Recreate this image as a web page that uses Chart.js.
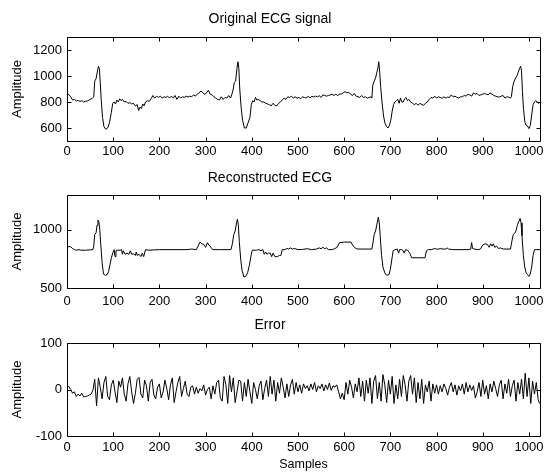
<!DOCTYPE html>
<html><head><meta charset="utf-8">
<script src="https://cdn.jsdelivr.net/npm/chart.js@4/dist/chart.umd.min.js"></script>
<style>
html,body{margin:0;padding:0;background:#fff;}
#wrap{position:relative;width:544px;height:473px;overflow:hidden;background:#fff;}
canvas{position:absolute;left:0;}
</style></head>
<body><div id="wrap">
<canvas id="c1" width="544" height="160" style="top:0px"></canvas>
<canvas id="c2" width="544" height="150" style="top:160px"></canvas>
<canvas id="c3" width="544" height="163" style="top:310px"></canvas>
</div>
<script>
const titles = ['Original ECG signal', 'Reconstructed ECG', 'Error'];
const yLabel = 'Amplitude';
const xLabel = 'Samples';
const xTicks = [0,100,200,300,400,500,600,700,800,900,1000];
const y1Ticks = [600,800,1000,1200];
const y2Ticks = [500,1000];
const y3Ticks = [-100,0,100];

const origX = [0,4,8,12,16,20,24,28,32,36,40,44,48,55,58,60,63,66,68,70,72,74,77,80,84,88,92,96,99,102,105,108,111,114,117,120,124,128,132,136,140,144,148,152,155,158,161,164,167,170,174,178,182,186,190,194,198,202,206,210,214,218,222,226,230,234,238,242,246,250,254,258,262,266,270,274,278,282,286,290,294,298,302,306,310,314,318,322,326,330,334,338,342,346,350,354,357,360,362,365,368,370,372,374,377,380,384,388,392,396,399,402,405,408,411,414,418,422,426,430,434,438,442,446,450,454,458,462,466,470,474,478,482,486,490,494,498,502,506,510,514,518,522,526,530,534,538,542,546,550,554,558,562,566,570,574,578,582,586,590,594,598,602,606,610,614,618,622,626,630,634,638,642,646,650,654,658,660,662,665,668,671,673,675,677,679,682,685,688,692,695,698,701,704,707,710,713,716,719,722,725,728,731,734,737,740,744,748,752,756,760,764,768,772,776,780,784,788,792,796,800,804,808,812,816,820,824,828,832,836,840,844,848,852,856,860,864,868,872,876,880,884,888,892,896,900,904,908,912,916,920,924,928,932,936,940,944,948,952,956,960,962,965,968,971,974,977,980,982,984,986,988,991,994,997,1000,1003,1006,1009,1012,1015,1018,1021,1024];
const origY = [860,858,840,815,820,808,812,805,810,800,805,808,815,830,840,960,980,1040,1075,1060,950,820,680,610,590,600,640,720,790,800,785,815,800,825,810,820,800,805,790,795,785,790,770,780,735,760,750,785,770,800,810,805,825,850,830,845,835,845,830,840,835,845,830,845,830,850,820,845,830,840,835,845,838,845,840,855,845,860,870,885,870,860,870,890,860,855,840,830,820,815,840,820,835,830,850,830,860,900,950,960,1060,1110,1060,900,760,660,600,600,640,680,780,810,800,835,815,820,810,800,800,790,785,780,770,790,775,770,790,800,815,830,820,840,835,845,830,840,830,835,825,840,835,830,845,830,845,838,845,840,848,835,855,850,845,850,855,860,850,860,850,860,862,870,880,870,875,860,850,865,845,840,835,850,835,840,830,835,840,830,930,960,985,1030,1060,1110,1030,920,800,700,640,610,600,620,660,730,780,800,810,820,790,830,800,800,825,835,810,820,800,790,780,790,775,790,780,775,790,800,820,835,830,845,830,840,835,828,840,830,838,835,855,840,845,835,830,840,840,850,845,860,855,845,870,860,865,850,855,860,865,860,855,870,860,850,845,840,838,845,850,830,840,838,830,840,920,960,985,1000,1030,1060,1075,1040,880,760,650,620,615,595,620,700,780,800,810,800,790,800];

const recX = [0,8,12,16,20,26,30,40,50,56,58,60,63,65,67,69,71,73,76,79,83,87,90,93,96,99,102,104,106,110,115,118,120,122,126,130,134,137,140,144,148,150,152,156,160,163,166,170,175,190,200,260,270,280,285,288,292,296,300,304,307,310,313,316,330,355,358,361,364,367,369,371,373,376,379,383,387,391,395,399,401,410,415,420,424,427,430,433,436,440,443,446,450,455,460,463,466,472,476,480,484,488,492,500,510,520,530,540,546,550,554,558,562,566,575,580,585,590,600,615,618,622,626,630,660,662,665,668,671,674,676,678,681,684,688,692,697,700,703,706,710,715,718,720,724,727,730,733,737,742,746,760,775,778,782,790,795,800,805,808,812,820,823,826,835,870,874,876,878,882,890,895,900,905,910,914,917,920,923,926,930,934,938,945,960,963,966,969,972,975,978,981,983,985,988,991,994,997,1000,1003,1006,1009,1012,1024];
const recY = [855,855,840,830,825,830,825,825,828,830,860,960,975,1040,1085,1070,1000,880,720,620,610,615,640,700,760,800,830,770,820,825,825,830,790,820,790,800,790,820,790,795,780,810,780,790,770,800,770,830,825,828,830,830,835,830,870,895,880,875,850,890,870,860,840,830,830,830,880,960,990,1060,1092,1040,900,750,650,595,600,630,700,790,825,825,830,820,830,790,810,790,800,800,770,800,770,770,780,780,830,830,840,835,845,835,840,830,832,838,830,835,845,838,850,838,845,830,830,840,850,890,895,895,870,850,840,835,835,880,960,990,1050,1110,1060,950,780,680,630,610,615,660,740,820,830,835,800,830,830,825,800,830,825,800,760,760,760,820,830,830,840,835,835,840,835,835,845,835,830,830,835,890,840,835,830,835,870,880,875,850,880,860,880,850,860,840,845,835,835,900,960,970,990,1040,1070,1098,1060,950,780,680,630,615,600,620,680,780,830,830];

const errY = [10,6,0,-8,-5,-15,-10,-14,-8,-16,-15,-14,-12,-10,-2,
22,-35,25,5,-20,
15,28,-15,-22,10,20,-5,-28,18,5,
25,-10,-25,12,28,-5,-30,-8,22,26,
-10,-18,20,8,-25,15,22,-12,-20,5,
12,-18,-5,20,2,-22,10,25,-28,-5,
15,28,-15,2,18,-10,-15,5,8,-10,
5,-8,2,-3,10,-12,0,5,-20,8,
-10,15,20,-18,-25,28,10,-30,30,-5,
25,-28,-5,20,18,-25,15,-15,22,-5,
-30,15,0,-20,8,18,-22,2,20,-15,
28,-10,20,-25,15,-8,25,5,-18,12,
-15,10,22,-10,15,-5,10,-8,12,2,
8,-3,12,0,15,-5,8,2,12,-3,
10,0,14,-2,8,5,10,-5,-20,-8,
-22,15,-10,20,5,-18,12,-5,25,-15,
18,-25,20,-8,25,-30,18,30,-20,15,
-25,32,10,-28,20,-10,28,-30,10,-20,
22,-15,30,10,-25,18,30,-10,25,-28,
15,-20,22,-30,10,-5,18,-25,12,-8,
10,-10,8,-5,12,2,-12,5,15,-5,
10,-12,8,-3,12,-10,15,-5,10,-2,
8,-18,-5,15,-15,20,-10,8,-20,12,
-5,18,2,-15,10,20,-20,12,-8,22,
-15,8,20,-25,15,-10,22,-20,35,-15,
25,-30,18,-10,15,-22,-30];
const errX = errY.map((_, i) => Math.min(i * 4, 1023));

const FONT = 'Liberation Sans, Arial, Helvetica, sans-serif';

const boxPlugin = {
  id: 'matlabBox',
  afterDraw(chart) {
    const ctx = chart.ctx, a = chart.chartArea;
    const xs = chart.scales.x, ys = chart.scales.y;
    const L = Math.round(a.left) + 0.5, R = Math.round(a.right) + 0.5;
    const T = Math.round(a.top) + 0.5, B = Math.round(a.bottom) + 0.5;
    ctx.save();
    ctx.strokeStyle = '#000';
    ctx.lineWidth = 1;
    ctx.beginPath();
    ctx.rect(L, T, R - L, B - T);
    const tl = 4;
    xs.ticks.forEach(t => {
      const px = Math.round(xs.getPixelForValue(t.value)) + 0.5;
      ctx.moveTo(px, B); ctx.lineTo(px, B - tl);
      ctx.moveTo(px, T); ctx.lineTo(px, T + tl);
    });
    ys.ticks.forEach(t => {
      const py = Math.round(ys.getPixelForValue(t.value)) + 0.5;
      ctx.moveTo(L, py); ctx.lineTo(L + tl, py);
      ctx.moveTo(R, py); ctx.lineTo(R - tl, py);
    });
    ctx.stroke();
    ctx.restore();
  }
};

function makeChart(id, xArr, yArr, yMin, yMax, yTicks, title, titlePad, xHeight, xPad, showXTitle) {
  const pts = xArr.map((x, i) => ({x: x, y: yArr[i]}));
  return new Chart(document.getElementById(id), {
    type: 'line',
    data: { datasets: [{ data: pts, borderColor: '#000', borderWidth: 1, pointRadius: 0, tension: 0, fill: false }] },
    options: {
      responsive: false, animation: false, devicePixelRatio: 1,
      layout: { padding: { left: 0, right: 4, top: 0, bottom: 0 } },
      plugins: {
        legend: { display: false }, tooltip: { enabled: false },
        title: { display: true, text: title, color: '#000', font: { family: FONT, size: 14, weight: 'normal', lineHeight: 1.2 }, padding: titlePad }
      },
      scales: {
        x: {
          type: 'linear', min: 0, max: 1024,
          grid: { display: false, drawTicks: false }, border: { display: false },
          afterBuildTicks: s => { s.ticks = xTicks.map(v => ({ value: v })); },
          ticks: { color: '#000', font: { family: FONT, size: 13 }, padding: xPad, maxRotation: 0, autoSkip: false, callback: v => String(v) },
          title: { display: showXTitle, text: xLabel, color: '#000', font: { family: FONT, size: 12.5 }, padding: { top: 0, bottom: 1 } },
          afterFit: s => { s.height = xHeight; s.paddingLeft = 0; s.paddingRight = 0; }
        },
        y: {
          type: 'linear', min: yMin, max: yMax,
          grid: { display: false, drawTicks: false }, border: { display: false },
          afterBuildTicks: s => { s.ticks = yTicks.map(v => ({ value: v })); },
          ticks: { color: '#000', font: { family: FONT, size: 13 }, padding: 5, autoSkip: false, callback: v => String(v) },
          title: { display: true, text: yLabel, color: '#000', font: { family: FONT, size: 13 }, padding: { top: 10, bottom: 0 } },
          afterFit: s => { s.width = 67; s.paddingTop = 0; s.paddingBottom = 0; }
        }
      }
    },
    plugins: [boxPlugin]
  });
}

makeChart('c1', origX, origY, 500, 1300, y1Ticks, titles[0], { top: 10.6, bottom: 9.6 }, 19, 3, false);
makeChart('c2', recX, recY, 500, 1300, y2Ticks, titles[1], { top: 9.6, bottom: 8.6 }, 22, 6, false);
makeChart('c3', errX, errY, -100, 100, y3Ticks, titles[2], { top: 6.6, bottom: 9.6 }, 37, 4, true);
</script>
</body></html>
